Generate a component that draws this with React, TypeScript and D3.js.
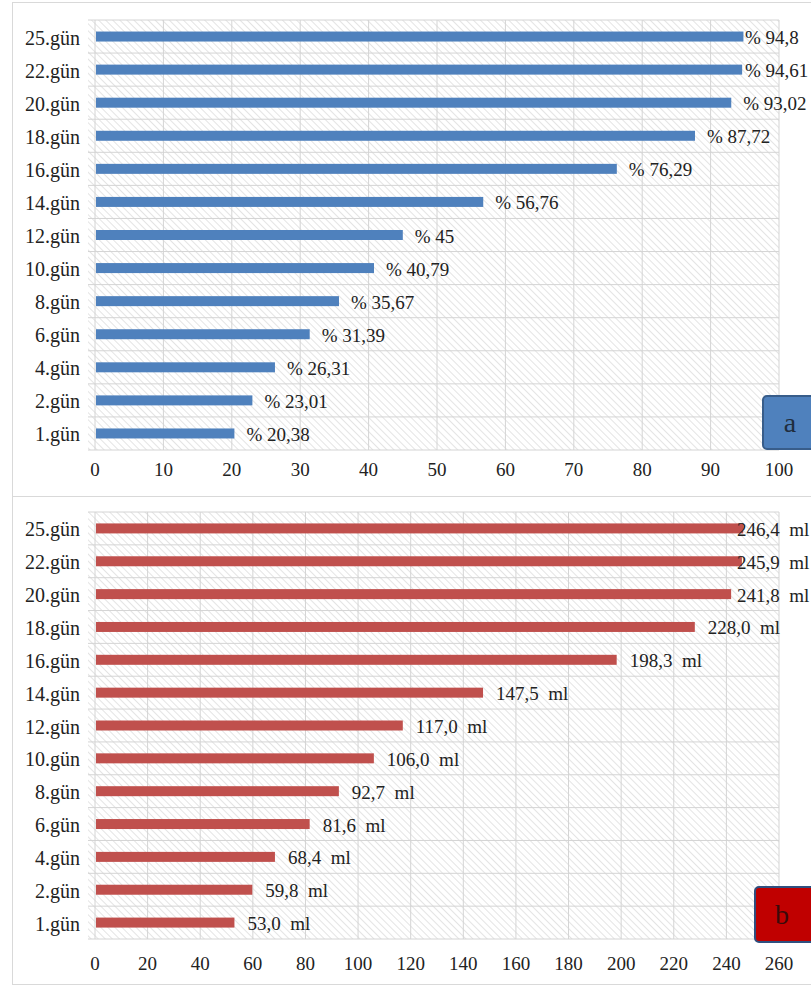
import React from "react";
import * as d3 from "d3";

const categories = ["25.gün", "22.gün", "20.gün", "18.gün", "16.gün", "14.gün", "12.gün", "10.gün", "8.gün", "6.gün", "4.gün", "2.gün", "1.gün"];
const percentValues = [94.8, 94.61, 93.02, 87.72, 76.29, 56.76, 45, 40.79, 35.67, 31.39, 26.31, 23.01, 20.38];
const percentLabels = ["94,8", "94,61", "93,02", "87,72", "76,29", "56,76", "45", "40,79", "35,67", "31,39", "26,31", "23,01", "20,38"];
const mlValues = [246.4, 245.9, 241.8, 228.0, 198.3, 147.5, 117.0, 106.0, 92.7, 81.6, 68.4, 59.8, 53.0];
const mlLabels = ["246,4", "245,9", "241,8", "228,0", "198,3", "147,5", "117,0", "106,0", "92,7", "81,6", "68,4", "59,8", "53,0"];
const percentTicks = [0, 10, 20, 30, 40, 50, 60, 70, 80, 90, 100];
const mlTicks = [0, 20, 40, 60, 80, 100, 120, 140, 160, 180, 200, 220, 240, 260];

const FONT = '"Liberation Serif", "DejaVu Serif", serif';

type PanelProps = {
  id: string;
  boxY: number;
  boxH: number;
  top: number;
  bottom: number;
  max: number;
  values: number[];
  labels: string[];
  ticks: number[];
  color: string;
  fmt: (s: string) => string;
  gap: number;
  clampX: number;
  tickY: number;
  badge: { x: number; y: number; w: number; h: number; fill: string; stroke: string; text: string; textColor: string };
};

const txt = { fontFamily: FONT } as React.CSSProperties;

function Panel(p: PanelProps) {
  const x = d3.scaleLinear().domain([0, p.max]).range([95, 779]);
  const y = d3.scaleBand().domain(categories).range([p.top, p.bottom]).paddingInner(0).paddingOuter(0);
  const bw = 10;
  const patId = "hatch-" + p.id;
  return (
    <g>
      <defs>
        <pattern id={patId} patternUnits="userSpaceOnUse" width={5} height={5} patternTransform="rotate(-45)">
          <rect width={5} height={5} fill="#ffffff" />
          <line x1={0} y1={0} x2={0} y2={5} stroke="#d6d6d6" strokeWidth={1.3} />
        </pattern>
      </defs>
      <rect x={12.5} y={p.boxY + 0.5} width={820} height={p.boxH} fill="#ffffff" stroke="#d9d9d9" />
      <rect x={88} y={p.top} width={779 - 88} height={p.bottom - p.top} fill={`url(#${patId})`} />
      {p.ticks.map((t) => (
        <line key={"v" + t} x1={x(t)} x2={x(t)} y1={p.top} y2={p.bottom} stroke="#d4d4d4" strokeWidth={1} />
      ))}
      {d3.range(categories.length + 1).map((i) => {
        const yy = p.top + i * y.step();
        return <line key={"h" + i} x1={88} x2={779} y1={yy} y2={yy} stroke="#d4d4d4" strokeWidth={1} />;
      })}
      {categories.map((c, i) => {
        const cy = (y(c) as number) + y.bandwidth() / 2;
        const end = x(p.values[i]);
        const lx = Math.min(end + p.gap, p.clampX);
        return (
          <g key={c}>
            <rect x={x(0) + 1} y={cy - bw / 2} width={end - x(0) - 1} height={bw} fill={p.color} />
            <text x={80} y={cy + 1} textAnchor="end" dominantBaseline="central" style={txt} fontSize={20} fill="#222">
              {c}
            </text>
            <text x={lx} y={cy + 1} dominantBaseline="central" style={{ ...txt, whiteSpace: "pre" }} fontSize={19} fill="#222">
              {p.fmt(p.labels[i])}
            </text>
          </g>
        );
      })}
      {p.ticks.map((t) => (
        <text key={"t" + t} x={x(t)} y={p.tickY} textAnchor="middle" dominantBaseline="central" style={txt} fontSize={19} fill="#222">
          {t}
        </text>
      ))}
      <rect x={p.badge.x} y={p.badge.y} width={p.badge.w} height={p.badge.h} rx={4} fill={p.badge.fill} stroke={p.badge.stroke} strokeWidth={2} />
      <text x={p.badge.x + 27} y={p.badge.y + p.badge.h / 2} textAnchor="middle" dominantBaseline="central" style={txt} fontSize={28} fill={p.badge.textColor}>
        {p.badge.text}
      </text>
    </g>
  );
}

export default function App() {
  return (
    <svg width={811} height={985} style={{ position: "absolute", left: 0, top: 0, background: "#fff" }}>
      <rect x={0} y={0} width={811} height={985} fill="#ffffff" />
      <Panel
        id="a"
        boxY={2}
        boxH={494}
        top={20}
        bottom={450}
        max={100}
        values={percentValues}
        labels={percentLabels}
        ticks={percentTicks}
        color="#4f81bd"
        fmt={(s) => "% " + s}
        gap={12}
        clampX={745}
        tickY={469}
        badge={{ x: 763, y: 396, w: 54, h: 53, fill: "#4f81bd", stroke: "#385d8a", text: "a", textColor: "#1f2d3d" }}
      />
      <Panel
        id="b"
        boxY={496}
        boxH={488}
        top={512}
        bottom={939}
        max={260}
        values={mlValues}
        labels={mlLabels}
        ticks={mlTicks}
        color="#c0504d"
        fmt={(s) => s + "\u00a0 ml"}
        gap={13}
        clampX={737}
        tickY={963}
        badge={{ x: 755, y: 887, w: 60, h: 55, fill: "#c00000", stroke: "#2f4f7f", text: "b", textColor: "#3a0a0a" }}
      />
    </svg>
  );
}
